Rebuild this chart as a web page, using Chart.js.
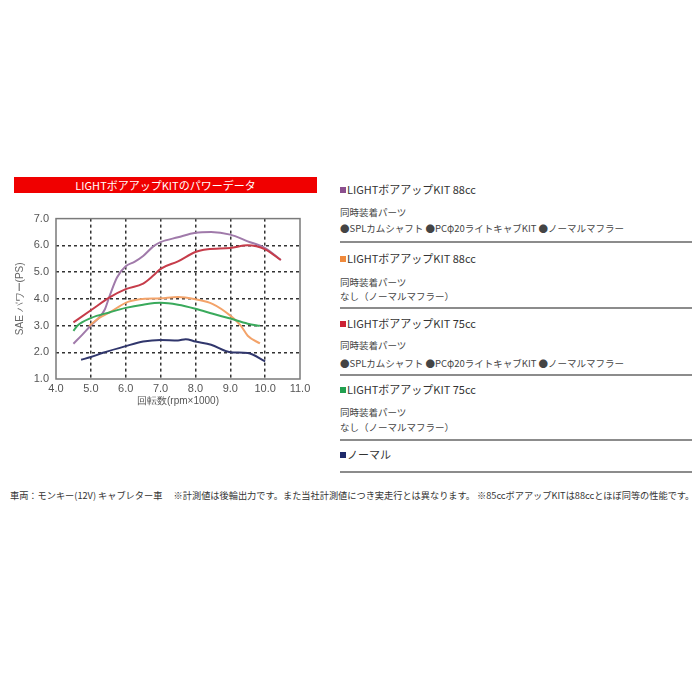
<!DOCTYPE html>
<html>
<head>
<meta charset="utf-8">
<script src="https://cdn.jsdelivr.net/npm/chart.js@4"></script>
<style>
  body { margin: 0; width: 700px; height: 700px; background: #fff; position: relative; overflow: hidden;
         font-family: "Noto Sans CJK JP", "Noto Sans", sans-serif; color: #333; }
  .abs { position: absolute; white-space: nowrap; }
  #titleBar { left: 14px; top: 177px; width: 303px; height: 16px; background: #f00000;
              color: #fff; font-size: 11px; line-height: 16px; text-align: center; }
  #chartBox { position: absolute; left: 0; top: 205px; width: 320px; height: 205px; }
  .head { font-size: 11px; line-height: 13px; color: #333; }
  .sub { font-size: 9.5px; line-height: 12px; color: #444; }
  .sq { display: inline-block; width: 6px; height: 6px; margin-right: 1px; vertical-align: 1px; }
  .sep { position: absolute; left: 340px; width: 352px; height: 2px; background: #8c8c8c; }
  #note { left: 10px; top: 489px; width: 680px; font-size: 9.2px; line-height: 12px; color: #333; }
</style>
</head>
<body>
<div id="titleBar" class="abs">LIGHTボアアップKITのパワーデータ</div>
<div id="chartBox"><canvas id="chartPower"></canvas></div>

<div class="abs head" style="left:340px;top:183px"><span class="sq" style="background:#8b4f8e"></span>LIGHTボアアップKIT 88cc</div>
<div class="abs sub" style="left:340px;top:206px">同時装着パーツ</div>
<div class="abs sub" style="left:340px;top:222px">●SPLカムシャフト ●PCφ20ライトキャブKIT ●ノーマルマフラー</div>
<div class="sep" style="top:241px"></div>

<div class="abs head" style="left:340px;top:252px"><span class="sq" style="background:#f08a3c"></span>LIGHTボアアップKIT 88cc</div>
<div class="abs sub" style="left:340px;top:276px">同時装着パーツ</div>
<div class="abs sub" style="left:340px;top:290px">なし（ノーマルマフラー）</div>
<div class="sep" style="top:307px"></div>

<div class="abs head" style="left:340px;top:317px"><span class="sq" style="background:#cc2233"></span>LIGHTボアアップKIT 75cc</div>
<div class="abs sub" style="left:340px;top:339px">同時装着パーツ</div>
<div class="abs sub" style="left:340px;top:357px">●SPLカムシャフト ●PCφ20ライトキャブKIT ●ノーマルマフラー</div>
<div class="sep" style="top:374px"></div>

<div class="abs head" style="left:340px;top:383px"><span class="sq" style="background:#22a050"></span>LIGHTボアアップKIT 75cc</div>
<div class="abs sub" style="left:340px;top:406px">同時装着パーツ</div>
<div class="abs sub" style="left:340px;top:421px">なし（ノーマルマフラー）</div>
<div class="sep" style="top:439px"></div>

<div class="abs head" style="left:340px;top:448px"><span class="sq" style="background:#1f2a6a"></span>ノーマル</div>
<div class="sep" style="top:471px"></div>

<div id="note" class="abs">車両：モンキー(12V) キャブレター車　 ※計測値は後輪出力です。また当社計測値につき実走行とは異なります。 ※85ccボアアップKITは88ccとほぼ同等の性能です。</div>

<script>
// rpm x1000 / PS
const kit88SplRpm = [4.5, 4.75, 5.0, 5.2, 5.4, 5.55, 5.75, 6.0, 6.25, 6.5, 6.8, 7.0, 7.5, 8.0, 8.45, 9.0, 9.5, 10.0, 10.45];
const kit88SplPs  = [2.32, 2.65, 3.0, 3.25, 3.6, 4.15, 4.8, 5.22, 5.38, 5.6, 5.97, 6.12, 6.3, 6.47, 6.5, 6.4, 6.15, 5.9, 5.45];

const kit88NormRpm = [4.95, 5.2, 5.55, 6.0, 6.4, 7.0, 7.5, 8.0, 8.5, 9.0, 9.3, 9.5, 9.85];
const kit88NormPs  = [2.98, 3.25, 3.5, 3.85, 3.98, 4.02, 4.07, 3.98, 3.8, 3.37, 3.0, 2.62, 2.33];

const kit75SplRpm = [4.5, 5.0, 5.55, 6.0, 6.5, 6.8, 7.0, 7.5, 8.0, 8.35, 9.0, 9.5, 10.0, 10.45];
const kit75SplPs  = [3.12, 3.57, 4.06, 4.36, 4.57, 4.88, 5.12, 5.4, 5.75, 5.85, 5.9, 6.0, 5.85, 5.45];

const kit75NormRpm = [4.5, 4.62, 5.0, 5.55, 6.0, 6.5, 7.0, 7.5, 8.0, 8.5, 9.0, 9.5, 9.85];
const kit75NormPs  = [2.8, 3.0, 3.28, 3.5, 3.66, 3.78, 3.85, 3.78, 3.63, 3.44, 3.26, 3.07, 2.99];

const normalRpm = [4.72, 5.0, 5.35, 6.0, 6.5, 7.0, 7.5, 7.72, 8.0, 8.45, 9.0, 9.5, 10.0];
const normalPs  = [1.72, 1.82, 1.98, 2.23, 2.4, 2.46, 2.44, 2.49, 2.4, 2.28, 2.0, 1.97, 1.66];

const xTicks = [4, 5, 6, 7, 8, 9, 10, 11];
const yTicks = [1, 2, 3, 4, 5, 6, 7];

function pts(xs, ys) {
    return xs.map((x, i) => ({ x: x, y: ys[i] }));
}

function series(xs, ys, color) {
    return {
        data: pts(xs, ys),
        borderColor: color,
        borderWidth: 2,
        pointRadius: 0,
        cubicInterpolationMode: "monotone",
        fill: false
    };
}

// frame around the plot
const framePlugin = {
    id: "frame",
    afterDraw(chart) {
        const a = chart.chartArea;
        const ctx = chart.ctx;
        ctx.save();
        ctx.strokeStyle = "#7a7a7a";
        ctx.lineWidth = 1.5;
        ctx.strokeRect(a.left, a.top, a.right - a.left, a.bottom - a.top);
        ctx.restore();
    }
};

const gridColor = ctx => (ctx.index === 0 || ctx.index === ctx.chart.scales[ctx.scale.id].ticks.length - 1) ? "rgba(0,0,0,0)" : "#333";

new Chart(document.getElementById("chartPower"), {
    type: "line",
    data: {
        datasets: [
            series(normalRpm, normalPs, "#30366c"),
            series(kit75NormRpm, kit75NormPs, "#3aaa5c"),
            series(kit88NormRpm, kit88NormPs, "#f3a36a"),
            series(kit75SplRpm, kit75SplPs, "#c63c4a"),
            series(kit88SplRpm, kit88SplPs, "#a07aaa")
        ]
    },
    options: {
        responsive: true,
        maintainAspectRatio: false,
        animation: false,
        layout: { padding: { top: 11, right: 20, bottom: 0, left: 0 } },
        plugins: { legend: { display: false }, tooltip: { enabled: false } },
        scales: {
            x: {
                type: "linear",
                min: 4, max: 11,
                afterBuildTicks: s => { s.ticks = xTicks.map(v => ({ value: v })); },
                afterFit: s => { s.height = 31; },
                ticks: { color: "#555", font: { size: 11 }, padding: 3, maxRotation: 0, autoSkip: false,
                         callback: v => v.toFixed(1) },
                grid: { color: gridColor, lineWidth: 1.5, drawTicks: false },
                border: { display: false, dash: [3, 3] },
                title: { display: true, text: "回転数(rpm×1000)", color: "#555", font: { size: 10 },
                         padding: { top: 0, bottom: 3 } }
            },
            y: {
                min: 1, max: 7,
                afterBuildTicks: s => { s.ticks = yTicks.map(v => ({ value: v })); },
                afterFit: s => { s.width = 56; },
                ticks: { color: "#555", font: { size: 11 }, padding: 7, callback: v => v.toFixed(1) },
                grid: { color: gridColor, lineWidth: 1.5, drawTicks: false },
                border: { display: false, dash: [3, 3] },
                title: { display: true, text: "SAE パワー(PS)", color: "#666", font: { size: 10 },
                         padding: { top: 14, bottom: 0 } }
            }
        }
    },
    plugins: [framePlugin]
});
</script>
</body>
</html>
